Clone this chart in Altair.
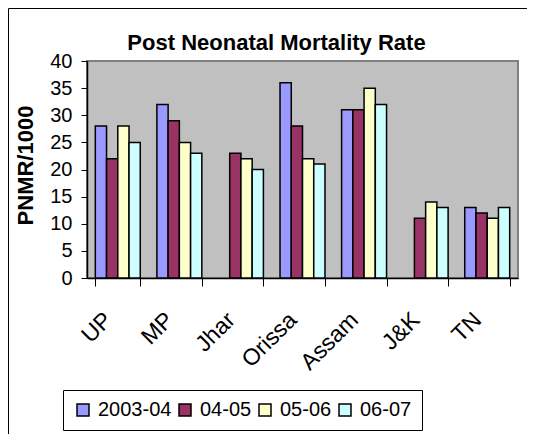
import altair as alt
import pandas as pd

states = ["UP", "MP", "Jhar", "Orissa", "Assam", "J&K", "TN"]
years = ["2003-04", "04-05", "05-06", "06-07"]
v_2003_04 = [28, 32, None, 36, 31, None, 13]
v_04_05 = [22, 29, 23, 28, 31, 11, 12]
v_05_06 = [28, 25, 22, 22, 35, 14, 11]
v_06_07 = [25, 23, 20, 21, 32, 13, 13]
colors = ["#9999FF", "#993366", "#FFFFCC", "#CCFFFF"]
y_ticks = [0, 5, 10, 15, 20, 25, 30, 35, 40]

rows = []
for yr, vals in zip(years, [v_2003_04, v_04_05, v_05_06, v_06_07]):
    for s, v in zip(states, vals):
        if v is not None:
            rows.append({"state": s, "year": yr, "value": v})
df = pd.DataFrame(rows)

FONT = "Liberation Sans"

bars = alt.Chart(df).mark_bar(stroke="black", strokeWidth=1.5).encode(
    x=alt.X("state:N", sort=states,
            scale=alt.Scale(paddingInner=0.27, paddingOuter=0.135),
            axis=alt.Axis(title=None, labelAngle=-45, labelAlign="right",
                          labelBaseline="middle", labelPadding=30, labelOffset=-10,
                          labelFontSize=23, labelFont=FONT, labelColor="black",
                          tickBand="extent", tickSize=8, tickColor="black",
                          domainColor="black", domainWidth=1.5, grid=False)),
    xOffset=alt.XOffset("year:N", sort=years,
                        scale=alt.Scale(domain=years, paddingInner=0, paddingOuter=0)),
    y=alt.Y("value:Q", scale=alt.Scale(domain=[0, 40], nice=False),
            axis=alt.Axis(title="PNMR/1000", values=y_ticks, grid=False,
                          labelFontSize=20, labelFont=FONT, labelColor="black",
                          labelPadding=9, tickSize=6, tickColor="black",
                          domainColor="black", domainWidth=1.5,
                          titleFont=FONT, titleFontSize=22, titleFontWeight="bold",
                          titleColor="black", titleX=-50, titleY=104)),
    color=alt.Color("year:N", sort=years,
                    scale=alt.Scale(domain=years, range=colors),
                    legend=alt.Legend(title=None, orient="none", legendX=-24, legendY=329,
                                      direction="horizontal", columns=4,
                                      symbolType="square", symbolSize=144,
                                      symbolStrokeColor="black", symbolStrokeWidth=1.5,
                                      labelFontSize=20, labelFont=FONT, labelColor="black",
                                      labelOffset=5, columnPadding=3,
                                      padding=10, strokeColor="black", fillColor="white")),
)

border = alt.Chart(pd.DataFrame({"a": [0]})).mark_rect(
    fill="transparent", stroke="black", strokeWidth=1
).encode(x=alt.value(-78.5), y=alt.value(-52.5), x2=alt.value(700), y2=alt.value(700))

chart = alt.layer(border, bars).properties(
    width=431, height=217,
    title=alt.TitleParams("Post Neonatal Mortality Rate", font=FONT, fontSize=22,
                          fontWeight="bold", color="black", anchor="middle",
                          frame="group", baseline="alphabetic",
                          dx=-26, offset=-64),
    autosize=alt.AutoSizeParams(type="none"),
    padding={"left": 79, "top": 53, "right": 9, "bottom": 156},
).configure_view(fill="#C0C0C0", stroke="#808080", strokeWidth=2)

chart.save("out.html", embed_options={"renderer": "svg", "actions": False})
